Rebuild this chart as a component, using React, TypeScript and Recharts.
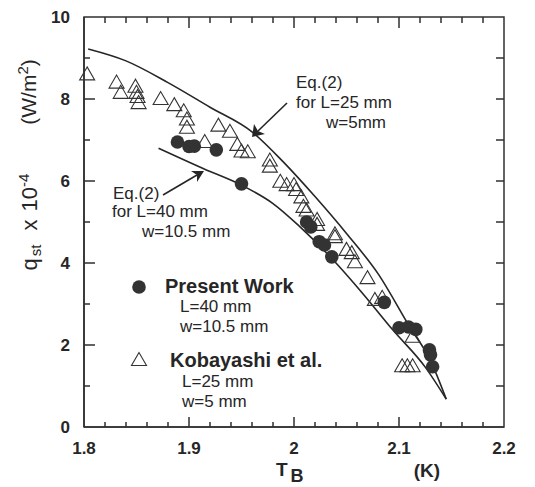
import { ComposedChart, Line, Scatter, XAxis, YAxis } from 'recharts';

// T_B (K) ticks and q_st x 10^-4 (W/m^2) ticks
const xTicks = [1.8, 1.82, 1.84, 1.86, 1.88, 1.9, 1.92, 1.94, 1.96, 1.98, 2, 2.02, 2.04, 2.06, 2.08, 2.1, 2.12, 2.14, 2.16, 2.18, 2.2];
const xLabels = ['1.8', '1.9', '2', '2.1', '2.2'];
const yTicks = [0, 1, 2, 3, 4, 5, 6, 7, 8, 9, 10];
const yLabels = ['0', '2', '4', '6', '8', '10'];

// Present Work (L=40 mm, w=10.5 mm)
const presentT = [1.889, 1.9, 1.905, 1.926, 1.95, 2.012, 2.016, 2.024, 2.029, 2.036, 2.086, 2.1, 2.109, 2.116, 2.129, 2.13, 2.132];
const presentQ = [6.95, 6.84, 6.85, 6.76, 5.93, 5.0, 4.88, 4.52, 4.44, 4.15, 3.04, 2.42, 2.44, 2.38, 1.88, 1.76, 1.47];

// Kobayashi et al. (L=25 mm, w=5 mm)
const kobT = [1.803, 1.831, 1.835, 1.849, 1.85, 1.851, 1.852, 1.873, 1.886, 1.895, 1.898, 1.898, 1.915, 1.928, 1.939, 1.946, 1.95, 1.956, 1.977, 1.977, 1.987, 1.993, 2.0, 2.002, 2.007, 2.009, 2.012, 2.022, 2.022, 2.039, 2.039, 2.05, 2.055, 2.058, 2.07, 2.077, 2.084, 2.113, 2.103, 2.108, 2.113];
const kobQ = [8.6, 8.4, 8.15, 8.3, 8.15, 8.05, 7.9, 8.0, 7.85, 7.7, 7.5, 7.3, 6.95, 7.35, 7.2, 6.88, 6.72, 6.7, 6.5, 6.35, 5.98, 5.9, 5.9, 5.78, 5.6, 5.37, 5.28, 5.05, 4.93, 4.7, 4.63, 4.32, 4.24, 4.02, 3.63, 3.1, 3.15, 2.2, 1.48, 1.48, 1.48];

// Eq.(2) curves
const eq25T = [1.804, 1.84, 1.88, 1.92, 1.96, 1.99, 2.02, 2.05, 2.08, 2.11, 2.13, 2.145];
const eq25Q = [9.22, 8.93, 8.4, 7.8, 7.2, 6.46, 5.62, 4.72, 3.74, 2.45, 1.62, 0.68];
const eq40T = [1.871, 1.914, 1.95, 1.98, 2.005, 2.04, 2.065, 2.094, 2.125, 2.145];
const eq40Q = [6.8, 6.3, 5.9, 5.45, 4.9, 4.0, 3.27, 2.37, 1.46, 0.68];

const zip = (xs: number[], ys: number[]) => xs.map((x, i) => ({ x, y: ys[i] }));
const present = zip(presentT, presentQ);
const kobayashi = zip(kobT, kobQ);
const eq25 = zip(eq25T, eq25Q);
const eq40 = zip(eq40T, eq40Q);

const ink = '#262626';
const font = '"Liberation Sans", Arial, Helvetica, sans-serif';

// layout of the plot box (chart margins + axis sizes)
const W = 535;
const H = 487;
const margin = { top: 17, right: 31, bottom: 0, left: 0 };
const xAxisH = 60;
const yAxisW = 84;
const box = { left: margin.left + yAxisW, right: W - margin.right, top: margin.top, bottom: H - margin.bottom - xAxisH };
const X_DOMAIN = [1.8, 2.2];
const Y_DOMAIN = [0, 10];
const sx = (v: number) => box.left + ((v - X_DOMAIN[0]) / (X_DOMAIN[1] - X_DOMAIN[0])) * (box.right - box.left);
const sy = (v: number) => box.bottom - ((v - Y_DOMAIN[0]) / (Y_DOMAIN[1] - Y_DOMAIN[0])) * (box.bottom - box.top);

const xLabelFor = (v: number) => xLabels.find((s) => Math.abs(parseFloat(s) - v) < 1e-6);
const yLabelFor = (v: number) => yLabels.find((s) => Math.abs(parseFloat(s) - v) < 1e-6);

// frame + inward ticks on all four sides, as one path
const framePath = [
  `M${box.left},${box.top}H${box.right}V${box.bottom}H${box.left}Z`,
  ...xTicks.map((v) => {
    const len = xLabelFor(v) ? 10 : 5;
    return `M${sx(v)},${box.bottom}v${-len}M${sx(v)},${box.top}v${len + 1}`;
  }),
  ...yTicks.map((v) => {
    const len = yLabelFor(v) ? 11 : 6;
    return `M${box.left},${sy(v)}h${len}M${box.right},${sy(v)}h-8`;
  }),
].join(' ');

const XTickLabel = (p: any) => {
  const label = xLabelFor(p.payload.value);
  if (!label) return <g />;
  return (
    <text x={p.x} y={p.y + 27} textAnchor="middle" fontFamily={font} fontWeight="bold" fontSize={17} fill={ink}>
      {label}
    </text>
  );
};

const YTickLabel = (p: any) => {
  const label = yLabelFor(p.payload.value);
  if (!label) return <g />;
  return (
    <text x={p.x - 14} y={p.y + 6} textAnchor="end" fontFamily={font} fontWeight="bold" fontSize={17} fill={ink}>
      {label}
    </text>
  );
};

const Dot = (p: any) => <circle cx={p.cx} cy={p.cy} r={6.8} fill="#333" />;
const Tri = (p: any) => (
  <path
    d={`M${p.cx},${p.cy - 7.5} L${p.cx - 7.5},${p.cy + 5.5} L${p.cx + 7.5},${p.cy + 5.5} Z`}
    fill="none"
    stroke="#333"
    strokeWidth={1.1}
  />
);

const t = { fontFamily: font, fill: ink };

function Frame() {
  return (
    <svg width={W} height={H} style={{ position: 'absolute', left: 0, top: 0, pointerEvents: 'none' }}>
      <path d={framePath} fill="none" stroke="#303030" strokeWidth={1.5} />
    </svg>
  );
}

export default function App() {
  return (
    <div style={{ position: 'absolute', left: 0, top: 0, width: W, height: H, background: '#fff' }}>
      <ComposedChart width={W} height={H} margin={margin}>
        <XAxis dataKey="x" type="number" domain={X_DOMAIN} ticks={xTicks} interval={0}
          height={xAxisH} tickSize={0} tickMargin={0} tickLine={false} stroke="#333" strokeWidth={1.6} tick={XTickLabel} />
        <YAxis type="number" domain={Y_DOMAIN} ticks={yTicks} interval={0}
          width={yAxisW} tickSize={0} tickMargin={0} tickLine={false} stroke="#333" strokeWidth={1.6} tick={YTickLabel} />
        <Line data={eq25} dataKey="y" type="monotone" stroke={ink} strokeWidth={1.6} dot={false} isAnimationActive={false} />
        <Line data={eq40} dataKey="y" type="monotone" stroke={ink} strokeWidth={1.6} dot={false} isAnimationActive={false} />
        <Scatter data={kobayashi} dataKey="y" shape={Tri} isAnimationActive={false} />
        <Scatter data={present} dataKey="y" shape={Dot} isAnimationActive={false} />

        {/* y axis title */}
        <text transform="rotate(-90 37 222)" x={37} y={222} textAnchor="middle" fontSize={22} {...t}>
          q<tspan fontSize={15} dx={2} dy={4}>st</tspan>
          <tspan dx={14} dy={-4}>x</tspan>
          <tspan dx={8}>10</tspan>
          <tspan fontSize={15} dy={-8}>-4</tspan>
        </text>
        <text transform="rotate(-90 36 92)" x={36} y={92} textAnchor="middle" fontSize={21} {...t}>
          (W/m<tspan fontSize={15} dy={-8}>2</tspan>
          <tspan dy={8}>)</tspan>
        </text>
        {/* x axis title */}
        <text x={276} y={476} fontSize={19} fontWeight="bold" {...t}>
          T<tspan fontSize={18} dx={3} dy={6}>B</tspan>
        </text>
        <text x={427} y={477} textAnchor="middle" fontSize={19} fontWeight="bold" {...t}>(K)</text>

        {/* Eq.(2) annotations */}
        <text x={296} y={88} fontSize={17} {...t}>Eq.(2)</text>
        <text x={296} y={108} fontSize={17} {...t}>for L=25 mm</text>
        <text x={326} y={128} fontSize={17} {...t}>w=5mm</text>
        <line x1={287} y1={103} x2={258} y2={131} stroke={ink} strokeWidth={1.6} />
        <path d="M252,137 L254,124 L258,131 L265,134 Z" fill={ink} />

        <text x={113} y={199} fontSize={17} {...t}>Eq.(2)</text>
        <text x={112} y={217} fontSize={17} {...t}>for L=40 mm</text>
        <text x={142} y={237} fontSize={17} {...t}>w=10.5 mm</text>
        <line x1={163} y1={195} x2={197} y2={175} stroke={ink} strokeWidth={1.6} />
        <path d="M204,171 L191,171 L197,175 L197,182 Z" fill={ink} />

        {/* legend */}
        <circle cx={139} cy={287} r={6.8} fill="#333" />
        <text x={165} y={293} fontSize={20} fontWeight="bold" {...t}>Present Work</text>
        <text x={180} y={312} fontSize={17} {...t}>L=40 mm</text>
        <text x={180} y={332} fontSize={17} {...t}>w=10.5 mm</text>
        <path d="M139,352.5 L131.5,365.5 L146.5,365.5 Z" fill="none" stroke="#333" strokeWidth={1.1} />
        <text x={170} y={367} fontSize={20} fontWeight="bold" {...t}>Kobayashi et al.</text>
        <text x={182} y={387} fontSize={17} {...t}>L=25 mm</text>
        <text x={182} y={407} fontSize={17} {...t}>w=5 mm</text>
      </ComposedChart>
      <Frame />
    </div>
  );
}
